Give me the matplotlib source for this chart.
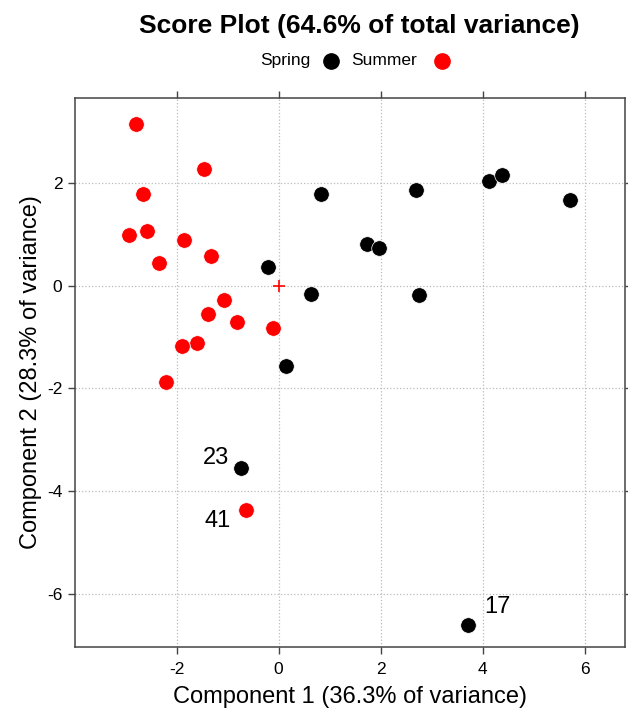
import matplotlib.pyplot as plt

plt.rcParams['font.family'] = ['Liberation Sans', 'DejaVu Sans']
plt.rcParams['axes.unicode_minus'] = False

# scores on the first two components
spring_x = [0.83, 2.70, 4.13, 4.37, 5.72, 1.73, 1.96, -0.20, 0.63, 2.76, 0.15, -0.73, 3.72]
spring_y = [1.78, 1.86, 2.04, 2.15, 1.66, 0.81, 0.74, 0.36, -0.17, -0.18, -1.57, -3.54, -6.61]
summer_x = [-2.79, -1.47, -2.66, -2.93, -2.57, -1.85, -1.32, -2.34, -1.07, -1.39, -0.82, -0.10, -1.59, -1.89, -2.21, -0.64]
summer_y = [3.14, 2.27, 1.79, 0.99, 1.07, 0.89, 0.58, 0.44, -0.27, -0.56, -0.71, -0.83, -1.11, -1.17, -1.88, -4.36]

# labelled outliers
out_labels = ["23", "41", "17"]
out_x = [-0.73, -0.64, 3.72]
out_y = [-3.54, -4.36, -6.61]

fig = plt.figure(figsize=(6.28, 7.14), dpi=100)
ax = fig.add_axes([0.1194, 0.0938, 0.8758, 0.7689])

ax.scatter(spring_x, spring_y, s=125, color="black", edgecolors="white", linewidths=0.5, zorder=3)
ax.scatter(summer_x, summer_y, s=125, color="red", edgecolors="white", linewidths=0.5, zorder=3)
ax.plot([0], [0], marker="+", color="red", ms=9, mew=1.2, zorder=3)

# label offsets (points): 23 up-left, 41 down-left, 17 up-right
offs = [(-18, 7), (-20, -8), (21, 13.5)]
for lab, x, y, o in zip(out_labels, out_x, out_y, offs):
    ax.annotate(lab, (x, y), xytext=o, textcoords="offset points",
                ha="center", va="center", fontsize=17)

ax.set_xlim(-3.99, 6.79)
ax.set_ylim(-7.03, 3.65)
ax.set_xticks([-2, 0, 2, 4, 6])
ax.set_yticks([-6, -4, -2, 0, 2])
ax.grid(True, linestyle=":", color="#bbbbbb", linewidth=0.9)
ax.set_axisbelow(True)
ax.tick_params(direction="out", top=True, right=True, length=5, width=1,
               labelsize=12.5, color="#444444")
ax.tick_params(axis="x", pad=6)
ax.tick_params(axis="y", pad=4)
for sp in ax.spines.values():
    sp.set_color("#444444")
    sp.set_linewidth(1.1)

ax.set_xlabel("Component 1 (36.3% of variance)", fontsize=17, labelpad=6)
ax.set_ylabel("Component 2 (28.3% of variance)", fontsize=17, labelpad=4)

fig.text(0.572, 0.964, "Score Plot (64.6% of total variance)", ha="center", va="center",
         fontsize=19, fontweight="bold")

# legend: text followed by its dot
fig.text(310 / 628, 0.915, "Spring", ha="right", va="center", fontsize=12.5)
fig.text(351 / 628, 0.915, "Summer", ha="left", va="center", fontsize=12.5)
fig.add_artist(plt.Line2D([331 / 628], [0.915], marker="o", color="black", ms=11, transform=fig.transFigure))
fig.add_artist(plt.Line2D([442 / 628], [0.915], marker="o", color="red", ms=11, transform=fig.transFigure))

fig.savefig("out.png", dpi=100)
